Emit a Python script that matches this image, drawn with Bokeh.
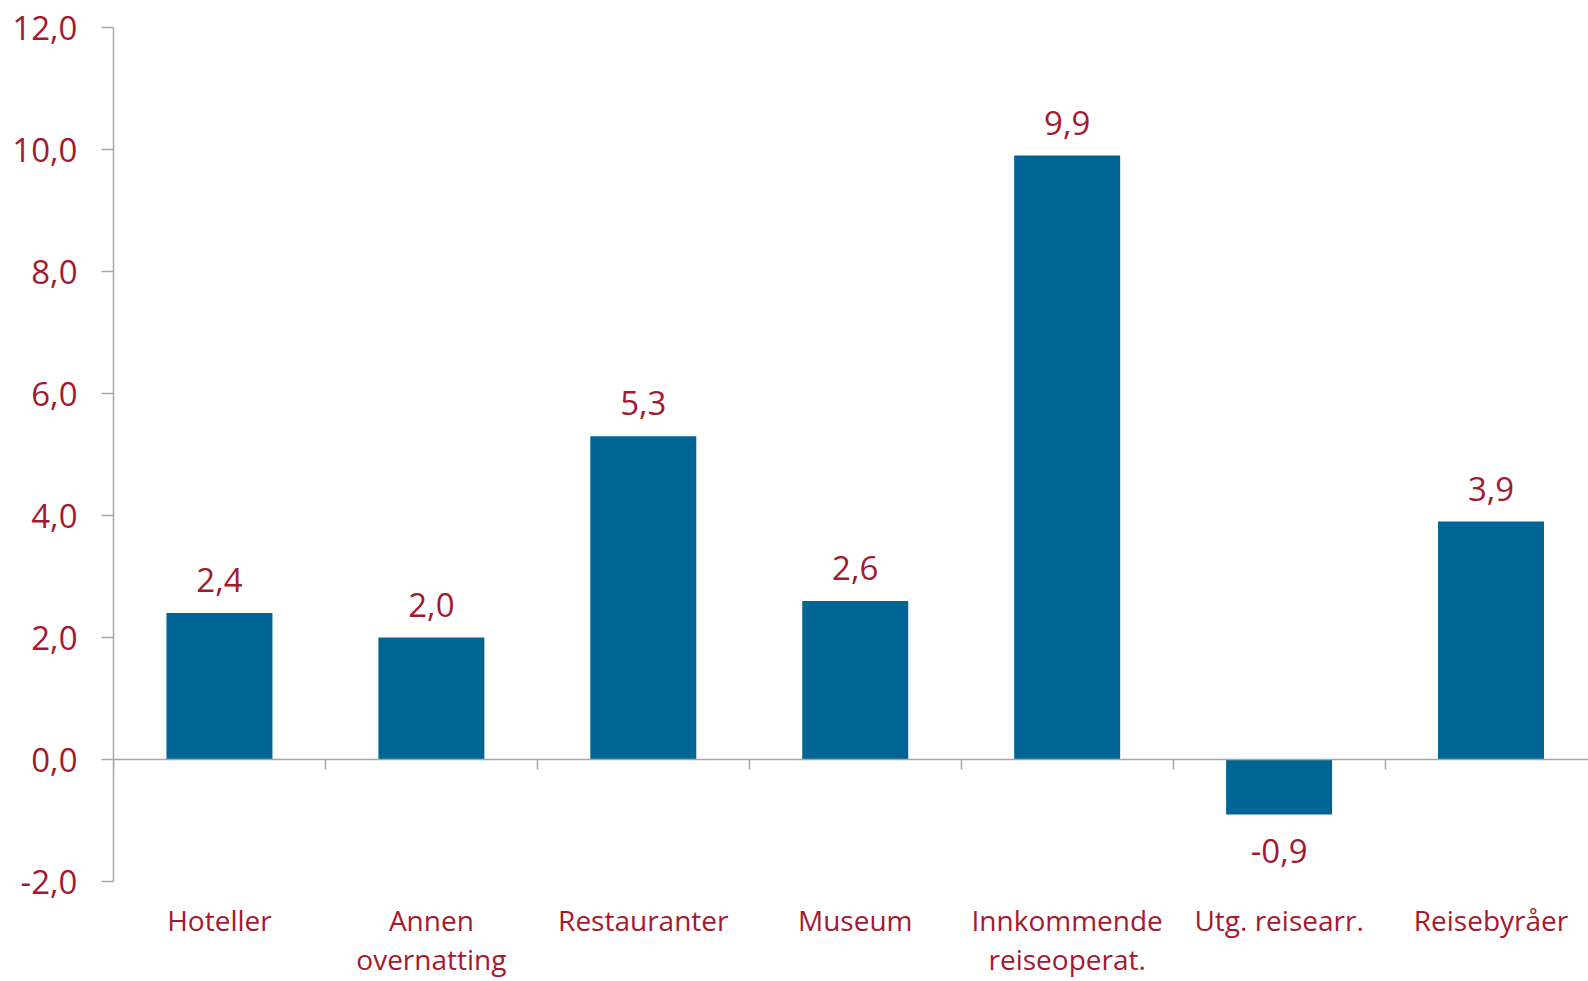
from bokeh.plotting import figure
from bokeh.models import Range1d, LinearAxis, FixedTicker, ColumnDataSource, CustomJSTickFormatter
from bokeh.embed import file_html
from bokeh.resources import INLINE
from bokeh.core.properties import value

categories = ["Hoteller", "Annen\novernatting", "Restauranter", "Museum",
              "Innkommende\nreiseoperat.", "Utg. reisearr.", "Reisebyråer"]
values = [2.4, 2.0, 5.3, 2.6, 9.9, -0.9, 3.9]
y_ticks = [-2, 0, 2, 4, 6, 8, 10, 12]

RED = "#A5192F"
BLUE = "#006595"
GRAY = "#A6A6A6"
FONT = "Open Sans"


def fmt(v):
    return f"{v:.1f}".replace(".", ",")


n = len(categories)
centers = [i + 0.5 for i in range(n)]

p = figure(width=1588, height=981, output_backend="svg", toolbar_location=None,
           x_range=Range1d(0, 6.96), y_range=Range1d(-2, 12),
           min_border_left=113, min_border_top=27, min_border_bottom=60,
           min_border_right=0, x_axis_location=None)

p.grid.visible = False
p.outline_line_color = None
p.background_fill_color = "white"
p.border_fill_color = "white"

# y axis
ya = p.yaxis[0]
ya.ticker = FixedTicker(ticks=y_ticks)
ya.formatter = CustomJSTickFormatter(code="return tick.toFixed(1).replace('.', ',');")
ya.major_tick_in = 0
ya.major_tick_out = 12
ya.minor_tick_line_color = None
ya.axis_line_color = GRAY
ya.major_tick_line_color = GRAY
ya.axis_line_width = 1.5
ya.major_tick_line_width = 1.5
ya.major_label_text_font = FONT
ya.major_label_text_font_size = "33px"
ya.major_label_text_color = RED
ya.major_label_standoff = 24

src = ColumnDataSource(dict(
    x=centers, y=values,
    label=[fmt(v) for v in values],
    off=[-33 if v >= 0 else 37 for v in values],
))

p.vbar(x="x", top="y", bottom=0, width=0.5, fill_color=BLUE, line_color=None, source=src)

# zero-line category axis (boundary ticks, no labels)
zero_axis = LinearAxis(fixed_location=0, ticker=FixedTicker(ticks=list(range(n + 1))),
                       formatter=CustomJSTickFormatter(code="return '';"),
                       major_tick_in=0, major_tick_out=10,
                       axis_line_color=GRAY, major_tick_line_color=GRAY,
                       axis_line_width=1.5, major_tick_line_width=1.5,
                       minor_tick_line_color=None)
p.add_layout(zero_axis, "below")

# category labels axis at bottom
cat_axis = LinearAxis(ticker=FixedTicker(ticks=centers),
                      formatter=CustomJSTickFormatter(args=dict(names=categories),
                                                      code="return names[Math.floor(tick)];"),
                      major_tick_in=0, major_tick_out=0,
                      major_tick_line_color=None, axis_line_color=None,
                      minor_tick_line_color=None,
                      major_label_standoff=19,
                      major_label_text_font=FONT,
                      major_label_text_font_size="28px",
                      major_label_text_line_height=1.05,
                      major_label_text_color=RED)
p.add_layout(cat_axis, "below")

p.text(x="x", y="y", text="label", y_offset="off", text_align="center",
       text_baseline="middle", text_font=value(FONT), text_font_size="33px",
       text_color=RED, source=src)

open("out.html", "w").write(file_html(p, INLINE))
